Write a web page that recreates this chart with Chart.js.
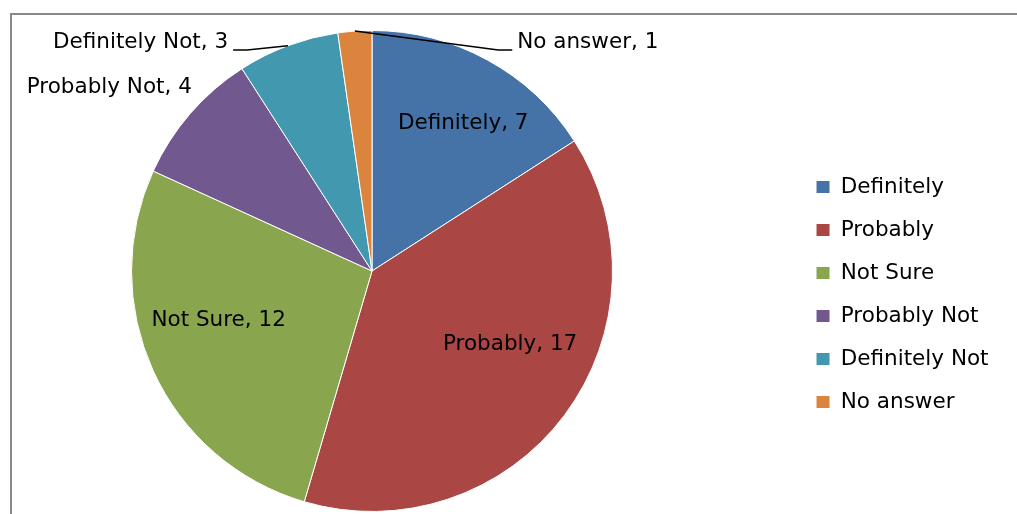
<!DOCTYPE html>
<html><head><meta charset="utf-8">
<script src="https://cdn.jsdelivr.net/npm/chart.js@4.4.1/dist/chart.umd.min.js"></script>
<style>html,body{margin:0;padding:0;background:#fff;overflow:hidden;}</style>
</head><body>
<canvas id="c" width="1017" height="514"></canvas>
<script>
// ---- data ----
const categories = ['Definitely', 'Probably', 'Not Sure', 'Probably Not', 'Definitely Not', 'No answer'];
const values = [7, 17, 12, 4, 3, 1];

// ---- style ----
const palette = ['#4572A7', '#AA4643', '#89A54E', '#71588F', '#4198AF', '#DB843D'];
const FONT_FAMILY = '"DejaVu Sans", sans-serif';
const FONT_SIZE = 21.5;
// label placement (style): inside -> t along slice angle, f of radius; outside -> angle offset from slice mid (deg), radius factor
const labelPlacement = [
  {type: 'inside', t: 0.555, f: 0.72},
  {type: 'inside', t: 0.436, f: 0.65},
  {type: 'inside', t: 0.568, f: 0.67},
  {type: 'outside', dAng: 4.6, rf: 1.069, align: 'right', leader: false},
  {type: 'outside', dAng: -11.7, rf: 1.085, align: 'right', leader: true},
  {type: 'outside', dAng: 36.5, rf: 1.088, align: 'left', leader: true}
];
const LEGEND_GAP = 50.5; // empty space between pie area and legend

const framePlugin = {
  id: 'frame',
  beforeInit(chart) {
    // spacer box placed between the chart area and the legend
    Chart.layouts.addBox(chart, {
      position: 'right',
      weight: 0,
      fullSize: false,
      options: {},
      width: 0, height: 0, left: 0, top: 0, right: 0, bottom: 0,
      isHorizontal() { return false; },
      update(maxWidth, maxHeight) { this.width = LEGEND_GAP; this.height = maxHeight; },
      draw() {}
    });
  },
  beforeDraw(chart) {
    const ctx = chart.ctx;
    ctx.save();
    ctx.fillStyle = '#fff';
    ctx.fillRect(0, 0, chart.width, chart.height);
    ctx.fillStyle = '#888888';
    ctx.fillRect(10, 13, chart.width - 10, 2);
    ctx.fillRect(10, 13, 2, chart.height - 13);
    ctx.restore();
  }
};

const labelPlugin = {
  id: 'sliceLabels',
  afterDatasetsDraw(chart) {
    const ctx = chart.ctx;
    const meta = chart.getDatasetMeta(0);
    ctx.save();
    ctx.font = FONT_SIZE + 'px ' + FONT_FAMILY;
    ctx.fillStyle = '#000';
    ctx.strokeStyle = '#000';
    ctx.lineWidth = 1.5;
    meta.data.forEach((arc, i) => {
      const p = labelPlacement[i];
      const text = categories[i] + ', ' + chart.data.datasets[0].data[i];
      const s = arc.startAngle, e = arc.endAngle, R = arc.outerRadius;
      if (p.type === 'inside') {
        const a = s + p.t * (e - s);
        const r = p.f * R;
        ctx.textAlign = 'center';
        ctx.textBaseline = 'middle';
        ctx.fillText(text, arc.x + r * Math.cos(a), arc.y + r * Math.sin(a));
      } else {
        const mid = (s + e) / 2;
        const a = mid + p.dAng * Math.PI / 180;
        const ax = arc.x + p.rf * R * Math.cos(a);
        const ay = arc.y + p.rf * R * Math.sin(a);
        ctx.textBaseline = 'middle';
        if (p.leader) {
          const ex = arc.x + R * Math.cos(mid);
          const ey = arc.y + R * Math.sin(mid);
          const dir = p.align === 'right' ? 1 : -1;
          ctx.beginPath();
          ctx.moveTo(ex, ey);
          ctx.lineTo(ax + dir * 14, ay);
          ctx.lineTo(ax, ay);
          ctx.stroke();
          ctx.textAlign = p.align;
          ctx.fillText(text, ax - dir * 5, ay - 8);
        } else {
          ctx.textAlign = p.align;
          ctx.fillText(text, ax, ay);
        }
      }
    });
    ctx.restore();
  }
};

new Chart(document.getElementById('c'), {
  type: 'pie',
  data: {
    labels: categories,
    datasets: [{
      data: values,
      backgroundColor: palette,
      borderColor: '#ffffff',
      borderWidth: 1
    }]
  },
  options: {
    responsive: false,
    animation: false,
    devicePixelRatio: 1,
    layout: {padding: {left: 0, right: 18.45, top: 30, bottom: 2}},
    plugins: {
      tooltip: {enabled: false},
      legend: {
        position: 'right',
        align: 'center',
        title: {display: true, text: ' ', font: {size: 10}, padding: {top: 17.5, bottom: 17.5}},
        labels: {
          boxWidth: 14,
          boxHeight: 13,
          padding: 21.5,
          color: '#000',
          font: {family: FONT_FAMILY, size: FONT_SIZE}
        }
      }
    }
  },
  plugins: [framePlugin, labelPlugin]
});
</script>
</body></html>
